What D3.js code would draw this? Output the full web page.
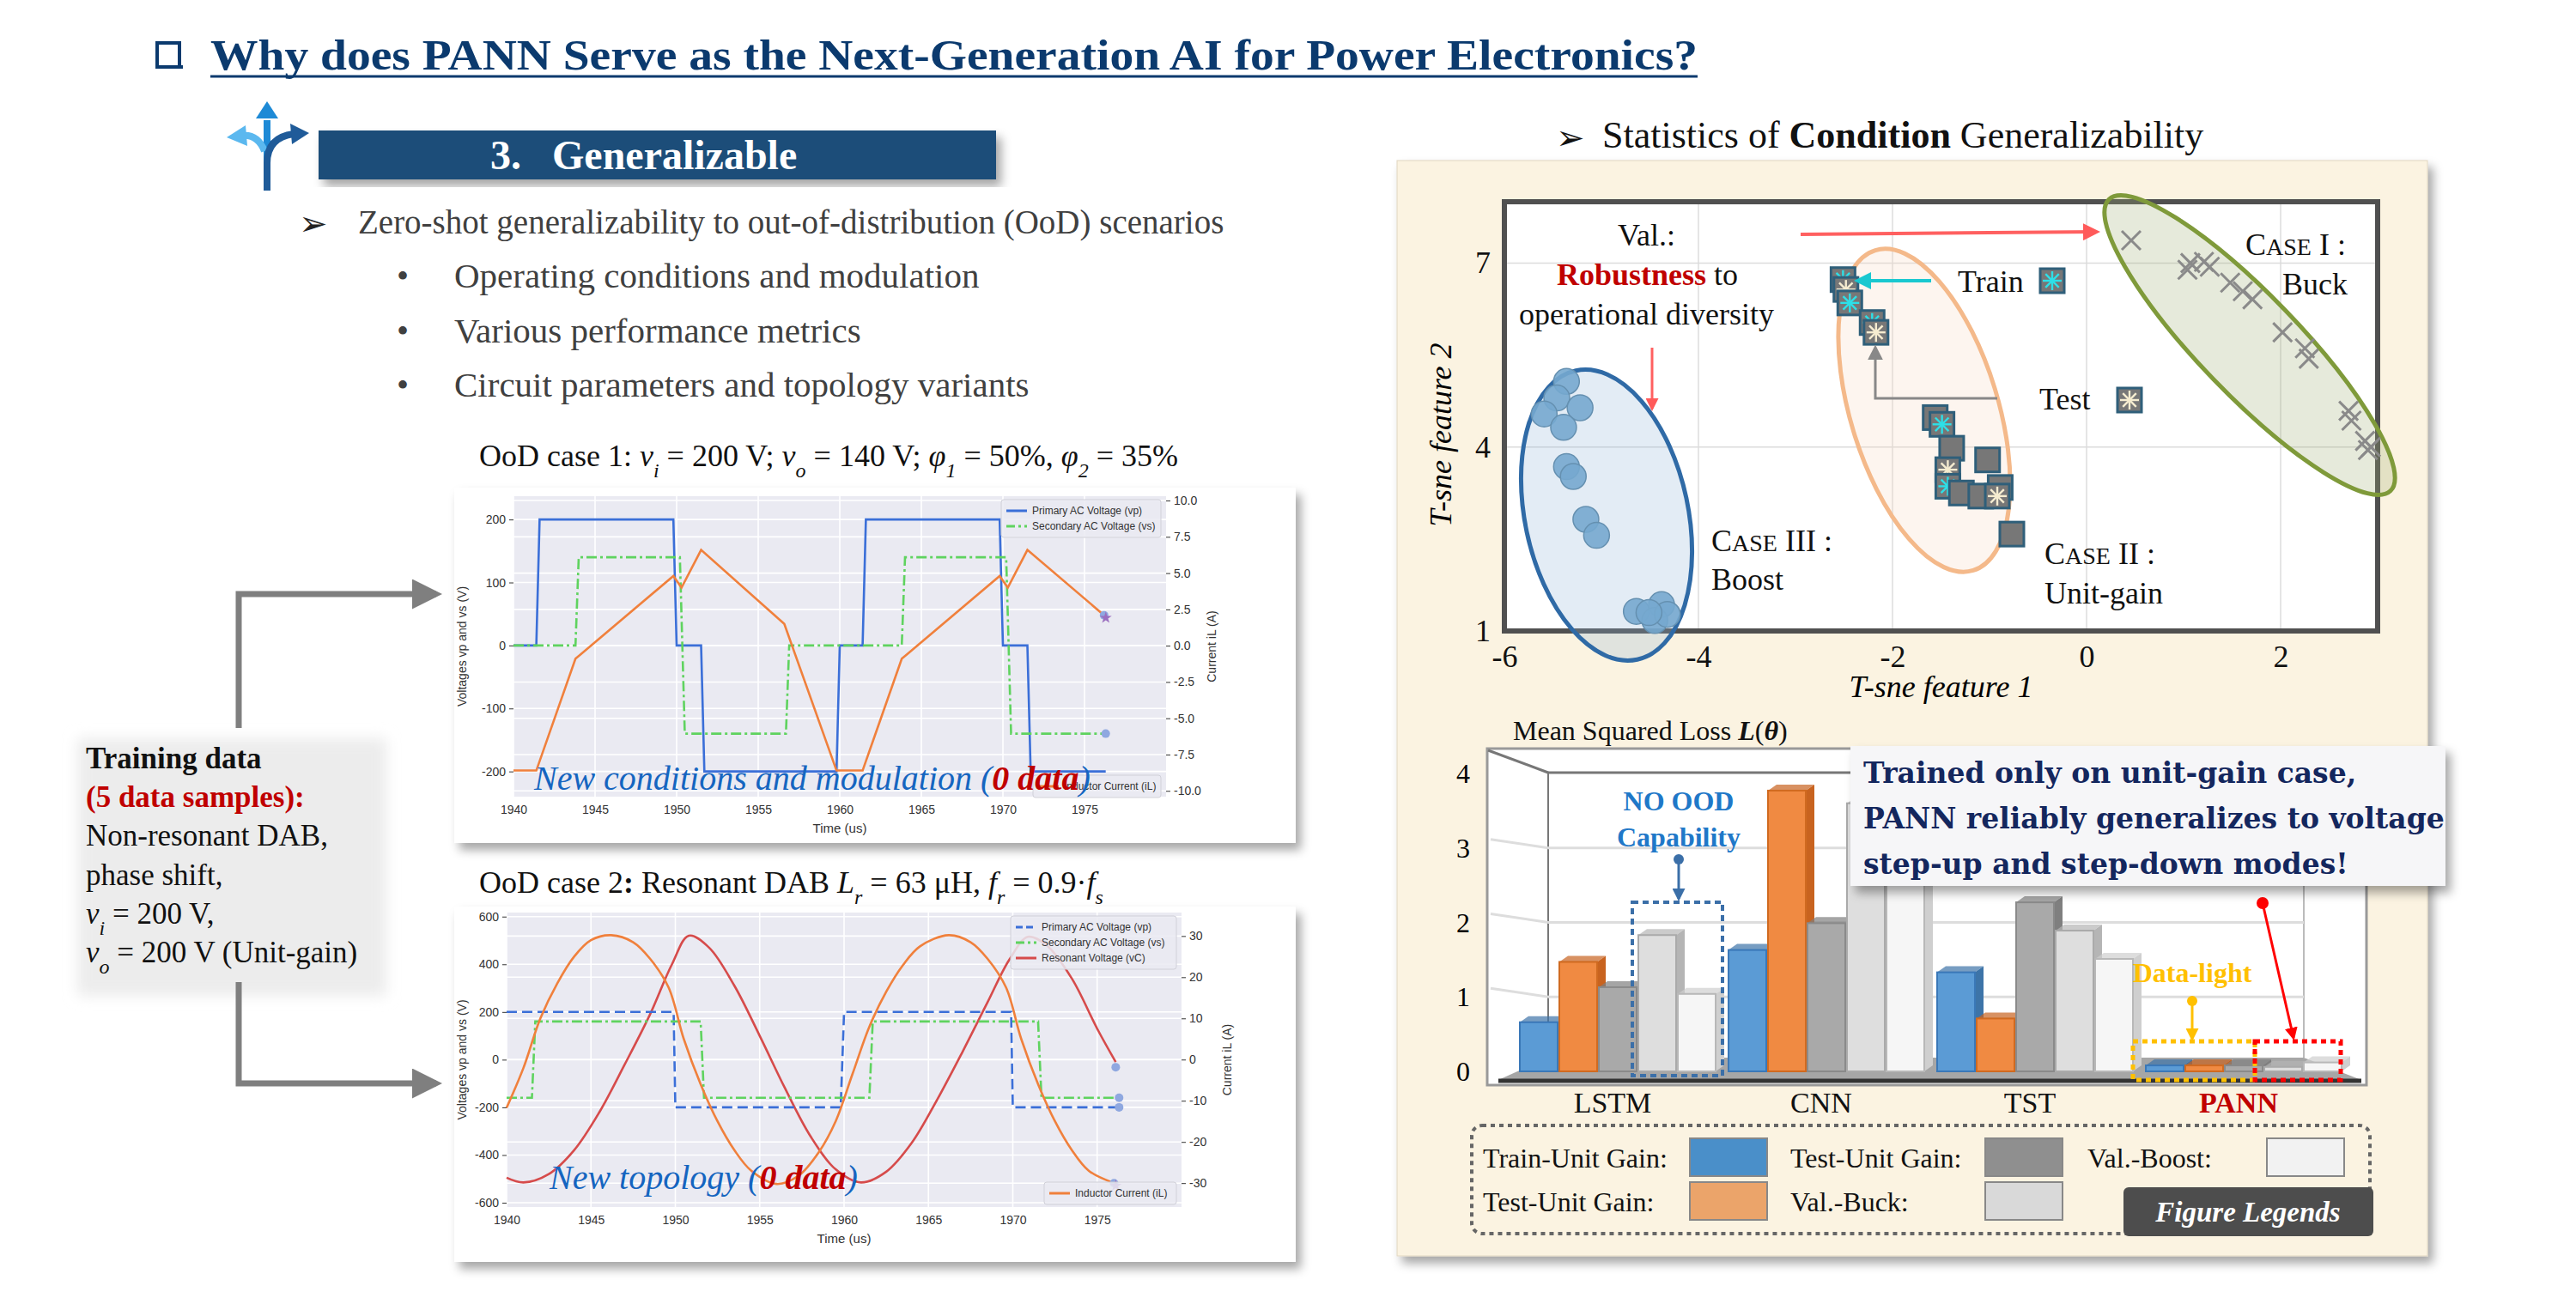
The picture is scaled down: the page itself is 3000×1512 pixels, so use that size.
<!DOCTYPE html>
<html>
<head>
<meta charset="utf-8">
<script src="https://cdn.jsdelivr.net/npm/d3@7"></script>
<style>
  body { margin: 0; background: #fff; }
  svg { display: block; }
</style>
</head>
<body>
<div id="chart"></div>
<script>
// ---------- data ----------
var bulletItems = ["Operating conditions and modulation", "Various performance metrics", "Circuit parameters and topology variants"]

// OoD case 1 waveforms (time in us)
var case1Vp = [[1940,0],[1941.4,0],[1941.6,200],[1949.8,200],[1950,0],[1951.5,0],[1951.7,-200],[1959.8,-200],[1960,0],[1961.4,0],[1961.6,200],[1969.8,200],[1970,0],[1971.5,0],[1971.7,-200],[1976.3,-200]]
var case1Vs = [[1940,0],[1943.8,0],[1944,140],[1950.2,140],[1950.5,-140],[1956.7,-140],[1956.9,0],[1963.8,0],[1964,140],[1970.2,140],[1970.5,-140],[1976.3,-140]]
var case1IL = [[1940,-8.6],[1941.4,-8.6],[1943.8,-0.9],[1949.8,4.8],[1950.3,4.0],[1951.5,6.6],[1956.6,1.5],[1959.8,-8.6],[1961.4,-8.6],[1963.8,-0.9],[1969.8,4.8],[1970.3,4.0],[1971.5,6.6],[1976.2,2.1]]
var case1LeftTicks = [-200,-100,0,100,200]
var case1RightTicks = [-10,-7.5,-5,-2.5,0,2.5,5,7.5,10]

// OoD case 2 waveforms
var case2Vp = [[1940,200],[1949.9,200],[1950,-200],[1959.8,-200],[1960,200],[1969.9,200],[1970,-200],[1976.3,-200]]
var case2Vs = [[1940,-160],[1941.5,-160],[1941.7,160],[1951.5,160],[1951.7,-160],[1961.5,-160],[1961.7,160],[1971.5,160],[1971.7,-160],[1976.3,-160]]
var case2IL = [[1940,-11.7],[1941,-2],[1942,10],[1943,18.5],[1944,25],[1945,29],[1946.2,30.2],[1947.5,28.5],[1948.5,24.5],[1949.6,17.5],[1950.5,5],[1951.5,-6],[1952.5,-15],[1953.5,-22],[1954.5,-27],[1956,-30.2],[1957.3,-28.2],[1958.5,-22.5],[1959.5,-15],[1960.5,-3.5],[1961.5,8],[1962.5,16.5],[1963.5,23],[1964.5,27.5],[1966.2,30.2],[1967.5,28.5],[1968.5,24.5],[1969.6,17.5],[1970.5,5],[1971.5,-6],[1972.5,-15],[1973.5,-22],[1974.5,-27],[1976,-30]]
var case2Vc = [[1940,-495],[1941,-515],[1942.5,-480],[1944,-380],[1945.5,-220],[1947,-20],[1948.5,190],[1949.8,400],[1950.8,520],[1952,470],[1953.5,310],[1955,100],[1956.5,-120],[1958,-320],[1959.5,-460],[1961,-515],[1962.5,-470],[1964,-350],[1965.5,-170],[1967,30],[1968.5,240],[1969.8,420],[1970.9,515],[1972,480],[1973.5,340],[1975,130],[1976.1,-10]]
var case2LeftTicks = [-600,-400,-200,0,200,400,600]
var case2RightTicks = [-30,-20,-10,0,10,20,30]
var timeTicks = [1940,1945,1950,1955,1960,1965,1970,1975]

// t-SNE scatter
var boostPts = [[-5.36,5.07],[-5.46,4.80],[-5.22,4.64],[-5.59,4.54],[-5.39,4.32],[-5.36,3.68],[-5.29,3.52],[-5.16,2.82],[-5.05,2.56],[-4.64,1.32],[-4.38,1.43],[-4.45,1.17],[-4.32,1.27],[-4.51,1.30]]
var unitPts = [[-2.51,6.73],[-2.48,6.57],[-2.44,6.35],[-2.21,6.03],[-2.17,5.87],[-1.56,4.48],[-1.49,4.37],[-1.39,3.98],[-1.02,3.79],[-1.43,3.63],[-1.43,3.36],[-1.29,3.25],[-1.09,3.20],[-0.89,3.34],[-0.92,3.20],[-0.77,2.58]]
var unitKind = ["train","test","train","train","test","none","train","none","none","test","train","none","none","none","test","none"]
var buckPts = [[0.46,7.37],[1.07,7.0],[1.21,7.02],[1.27,6.94],[1.04,6.89],[1.48,6.68],[1.61,6.54],[1.71,6.41],[2.02,5.87],[2.25,5.61],[2.29,5.44],[2.70,4.59],[2.73,4.43],[2.87,4.10],[2.90,3.95],[2.93,4.00]]
var tsneXTicks = [-6,-4,-2,0,2]
var tsneYTicks = [1,4,7]

// bar chart of mean squared loss
var models = ["LSTM","CNN","TST","PANN"]
var trainUnit = [0.66, 1.63, 1.33, 0.08]
var testUnitA = [1.47, 3.77, 0.71, 0.08]
var testUnitB = [1.13, 1.99, 2.27, 0.08]
var valBuck   = [1.83, 3.60, 1.89, 0.06]
var valBoost  = [1.04, 3.30, 1.51, 0.12]
var lossTicks = [0,1,2,3,4]

var serif = "'Liberation Serif', 'Times New Roman', serif"
var sans = "'Liberation Sans', Arial, sans-serif"
var plain = function (d) { return String(d) }

var svg = d3.select("#chart").append("svg").attr("width", 3000).attr("height", 1512)

var defs = svg.append("defs")
var sh = defs.append("filter").attr("id", "shadow").attr("x", "-5%").attr("y", "-5%").attr("width", "115%").attr("height", "120%")
sh.append("feDropShadow").attr("dx", 6).attr("dy", 8).attr("stdDeviation", 6).attr("flood-color", "#000").attr("flood-opacity", 0.35)
var sh2 = defs.append("filter").attr("id", "soft").attr("x", "-10%").attr("y", "-10%").attr("width", "120%").attr("height", "130%")
sh2.append("feGaussianBlur").attr("stdDeviation", 8)
function arrowMarker(id, color, size) {
  defs.append("marker").attr("id", id).attr("viewBox", "0 0 10 10").attr("refX", 8).attr("refY", 5)
    .attr("markerWidth", size).attr("markerHeight", size).attr("orient", "auto")
    .append("path").attr("d", "M0,0 L10,5 L0,10 z").attr("fill", color)
}
arrowMarker("arrGray", "#7f7f7f", 5)
arrowMarker("arrRed", "#ff5a5a", 5)
arrowMarker("arrCyan", "#19c8d0", 5)
arrowMarker("arrGray2", "#888", 6)
arrowMarker("arrRed2", "#ff0000", 5)
arrowMarker("arrBlue", "#3b6fa8", 5)
arrowMarker("arrYel", "#ffc000", 5)

// ---------- title ----------
svg.append("rect").attr("x", 183).attr("y", 50).attr("width", 26).attr("height", 28).attr("fill", "none").attr("stroke", "#0b3a6e").attr("stroke-width", 4)
svg.append("rect").attr("x", 187).attr("y", 76).attr("width", 26).attr("height", 4).attr("fill", "#0b3a6e")
svg.append("text").attr("x", 245).attr("y", 81).attr("font-family", serif).attr("font-weight", "bold").attr("font-size", 50)
  .attr("fill", "#0b3a6e").attr("textLength", 1732).attr("lengthAdjust", "spacingAndGlyphs")
  .text("Why does PANN Serve as the Next-Generation AI for Power Electronics?")
svg.append("line").attr("x1", 245).attr("x2", 1977).attr("y1", 89).attr("y2", 89).attr("stroke", "#0b3a6e").attr("stroke-width", 3)

// icon
var icon = svg.append("g").attr("fill", "none").attr("stroke-width", 8)
icon.append("path").attr("d", "M311,218 L311,140").attr("stroke", "#1e8ad6")
icon.append("path").attr("d", "M298,138 L311,118 L324,138 Z").attr("fill", "#1e8ad6").attr("stroke", "none")
icon.append("path").attr("d", "M308,176 Q300,156 282,158").attr("stroke", "#5bb8ef")
icon.append("path").attr("d", "M286,146 L264,160 L288,170 Z").attr("fill", "#5bb8ef").attr("stroke", "none")
icon.append("path").attr("d", "M311,222 L311,190 Q311,160 342,156").attr("stroke", "#1f5b99")
icon.append("path").attr("d", "M338,144 L360,155 L340,168 Z").attr("fill", "#1f5b99").attr("stroke", "none")

// banner
svg.append("rect").attr("x", 371).attr("y", 152).attr("width", 789).attr("height", 57).attr("fill", "#1f4e79").attr("filter", "url(#shadow)")
svg.append("text").attr("x", 571).attr("y", 197).attr("font-family", serif).attr("font-weight", "bold").attr("font-size", 48).attr("fill", "#fff")
  .attr("xml:space", "preserve").text("3.   Generalizable")

// bullets
svg.append("text").attr("x", 348).attr("y", 274).attr("font-family", "'DejaVu Sans'").attr("font-size", 40).attr("fill", "#222").text("➢")
svg.append("text").attr("x", 417).attr("y", 272).attr("font-family", serif).attr("font-size", 39).attr("fill", "#404040")
  .text("Zero-shot generalizability to out-of-distribution (OoD) scenarios")
bulletItems.forEach(function (t, i) {
  var y = 335 + i * 63.5
  svg.append("text").attr("x", 462).attr("y", y).attr("font-family", serif).attr("font-size", 40).attr("fill", "#404040").text("•")
  svg.append("text").attr("x", 529).attr("y", y).attr("font-family", serif).attr("font-size", 41).attr("fill", "#404040").text(t)
})

// ---------- OoD case captions ----------
function caption(y, parts) {
  var t = svg.append("text").attr("x", 558).attr("y", y).attr("font-family", serif).attr("font-size", 36).attr("fill", "#111")
  parts.forEach(function (p) {
    var s = t.append("tspan").text(p[0])
    if (p[1] == "i") s.attr("font-style", "italic")
    if (p[1] == "b") s.attr("font-weight", "bold")
    if (p[1] == "sub") s.attr("font-style", "italic").attr("font-size", 24).attr("baseline-shift", "sub")
  })
}
caption(543, [["OoD case 1: "], ["v", "i"], ["i", "sub"], [" = 200 V; "], ["v", "i"], ["o", "sub"], [" = 140 V; "], ["φ", "i"], ["1", "sub"], [" = 50%, "], ["φ", "i"], ["2", "sub"], [" = 35%"]])
caption(1040, [["OoD case 2"], [":", "b"], [" Resonant DAB "], ["L", "i"], ["r", "sub"], [" = 63 μH, "], ["f", "i"], ["r", "sub"], [" = 0.9·"], ["f", "i"], ["s", "sub"]])

// ---------- waveform plots ----------
function waveformPlot(o) {
  var g = svg.append("g")
  g.append("rect").attr("x", o.card[0]).attr("y", o.card[1]).attr("width", o.card[2]).attr("height", o.card[3]).attr("fill", "#fff").attr("filter", "url(#shadow)")
  var x = d3.scaleLinear().domain([1940, 1980]).range([o.left, o.right])
  var yl = d3.scaleLinear().domain(o.ylDom).range([o.bottom, o.top])
  var yr = d3.scaleLinear().domain(o.yrDom).range([o.bottom, o.top])
  g.append("rect").attr("x", o.left).attr("y", o.top).attr("width", o.right - o.left).attr("height", o.bottom - o.top).attr("fill", "#eaeaf2")
  var grid = g.append("g").attr("stroke", "#fff").attr("stroke-width", 1.6)
  timeTicks.forEach(function (t) { grid.append("line").attr("x1", x(t)).attr("x2", x(t)).attr("y1", o.top).attr("y2", o.bottom) })
  o.lt.forEach(function (v) { grid.append("line").attr("x1", o.left).attr("x2", o.right).attr("y1", yl(v)).attr("y2", yl(v)) })
  o.rt.forEach(function (v) { grid.append("line").attr("x1", o.left).attr("x2", o.right).attr("y1", yr(v)).attr("y2", yr(v)) })

  var ax = g.append("g").attr("transform", "translate(0," + o.bottom + ")").call(d3.axisBottom(x).tickValues(timeTicks).tickFormat(plain).tickSize(0).tickPadding(10))
  var al = g.append("g").attr("transform", "translate(" + o.left + ",0)").call(d3.axisLeft(yl).tickValues(o.lt).tickFormat(plain).tickSize(5).tickPadding(4))
  var ar = g.append("g").attr("transform", "translate(" + o.right + ",0)").call(d3.axisRight(yr).tickValues(o.rt).tickSize(5).tickPadding(4)
    .tickFormat(o.rtFmt))
  ;[ax, al, ar].forEach(function (a) {
    a.select(".domain").remove()
    a.selectAll("text").attr("font-family", sans).attr("font-size", 14).attr("fill", "#333")
    a.selectAll("line").attr("stroke", "#333")
  })
  g.append("text").attr("x", (o.left + o.right) / 2).attr("y", o.bottom + 42).attr("text-anchor", "middle").attr("font-family", sans).attr("font-size", 15).attr("fill", "#333").text("Time (us)")
  g.append("text").attr("transform", "translate(" + (o.card[0] + 14) + "," + ((o.top + o.bottom) / 2) + ") rotate(-90)").attr("text-anchor", "middle").attr("font-family", sans).attr("font-size", 14).attr("fill", "#333").text("Voltages vp and vs (V)")
  g.append("text").attr("transform", "translate(" + (o.right + 58) + "," + ((o.top + o.bottom) / 2) + ") rotate(-90)").attr("text-anchor", "middle").attr("font-family", sans).attr("font-size", 14).attr("fill", "#333").text("Current iL (A)")

  var lineL = d3.line().x(function (d) { return x(d[0]) }).y(function (d) { return yl(d[1]) })
  var lineR = d3.line().x(function (d) { return x(d[0]) }).y(function (d) { return yr(d[1]) })
  var smoothL = d3.line().curve(d3.curveCatmullRom).x(function (d) { return x(d[0]) }).y(function (d) { return yl(d[1]) })
  var smoothR = d3.line().curve(d3.curveCatmullRom).x(function (d) { return x(d[0]) }).y(function (d) { return yr(d[1]) })

  if (o.vc) g.append("path").attr("d", smoothL(o.vc)).attr("fill", "none").attr("stroke", "#d64b4b").attr("stroke-width", 2.6)
  g.append("path").attr("d", lineL(o.vp)).attr("fill", "none").attr("stroke", "#3b6fd8").attr("stroke-width", 2.6).attr("stroke-dasharray", o.vpDash)
  g.append("path").attr("d", lineL(o.vs)).attr("fill", "none").attr("stroke", "#5fd35f").attr("stroke-width", 2.6).attr("stroke-dasharray", "12,4,3,4")
  g.append("path").attr("d", (o.smooth ? smoothR : lineR)(o.il)).attr("fill", "none").attr("stroke", "#f0803c").attr("stroke-width", 2.6)

  // end markers
  var last = function (a) { return a[a.length - 1] }
  g.append("circle").attr("cx", x(last(o.vs)[0])).attr("cy", yl(last(o.vs)[1])).attr("r", 5).attr("fill", "#8fa8e0")
  if (o.vc) {
    g.append("circle").attr("cx", x(last(o.vp)[0])).attr("cy", yl(last(o.vp)[1])).attr("r", 5).attr("fill", "#8fa8e0")
    g.append("circle").attr("cx", x(last(o.vc)[0])).attr("cy", yl(last(o.vc)[1]) + 6).attr("r", 5).attr("fill", "#8fa8e0")
  }
  g.append("circle").attr("cx", x(last(o.il)[0])).attr("cy", yr(last(o.il)[1])).attr("r", 5).attr("fill", "#8fa8e0")
  g.append("path").attr("d", d3.symbol(d3.symbolStar, 60)()).attr("transform", "translate(" + (x(last(o.il)[0]) + 2) + "," + (yr(last(o.il)[1]) + 3) + ")").attr("fill", "#9b6fc0")

  // legends
  function legendBox(bx, by, items) {
    var lg = g.append("g")
    lg.append("rect").attr("x", bx).attr("y", by).attr("width", o.right - 6 - bx).attr("height", items.length * 18 + 8).attr("rx", 3).attr("fill", "#eaeaf2").attr("fill-opacity", 0.85).attr("stroke", "#d0d0d8")
    items.forEach(function (it, i) {
      var yy = by + 13 + i * 18
      lg.append("line").attr("x1", bx + 6).attr("x2", bx + 30).attr("y1", yy).attr("y2", yy).attr("stroke", it[1]).attr("stroke-width", 3).attr("stroke-dasharray", it[2])
      lg.append("text").attr("x", bx + 36).attr("y", yy + 4).attr("font-family", sans).attr("font-size", 12).attr("fill", "#333").text(it[0])
    })
  }
  legendBox(o.legTop[0], o.legTop[1], o.topItems)
  legendBox(o.legBot[0], o.legBot[1], [["Inductor Current (iL)", "#f0803c", null]])

  // overlay caption
  var c = g.append("text").attr("x", o.capX).attr("y", o.capY).attr("font-family", serif).attr("font-style", "italic").attr("font-size", 40).attr("fill", "#1565c0")
  c.append("tspan").text(o.capText + " (")
  c.append("tspan").attr("font-weight", "bold").attr("fill", "#c00000").text("0 data")
  c.append("tspan").text(")")
}

waveformPlot({
  card: [529, 568, 980, 414], left: 598, right: 1358, top: 578, bottom: 928,
  ylDom: [-240, 237], yrDom: [-10.4, 10.3], lt: case1LeftTicks, rt: case1RightTicks, rtFmt: function (d) { return d.toFixed(1) },
  vp: case1Vp, vs: case1Vs, il: case1IL, vpDash: null, smooth: false,
  legTop: [1166, 582], topItems: [["Primary AC Voltage (vp)", "#3b6fd8", null], ["Secondary AC Voltage (vs)", "#5fd35f", "10,4,3,4"]],
  legBot: [1203, 903], capX: 622, capY: 920, capText: "New conditions and modulation"
})
waveformPlot({
  card: [529, 1056, 980, 414], left: 590, right: 1376, top: 1063, bottom: 1406,
  ylDom: [-618, 617], yrDom: [-35.8, 35.7], lt: case2LeftTicks, rt: case2RightTicks, rtFmt: plain,
  vp: case2Vp, vs: case2Vs, il: case2IL, vc: case2Vc, vpDash: "12,6", smooth: true,
  legTop: [1177, 1067], topItems: [["Primary AC Voltage (vp)", "#3b6fd8", "8,4"], ["Secondary AC Voltage (vs)", "#5fd35f", "10,4,3,4"], ["Resonant Voltage (vC)", "#d64b4b", null]],
  legBot: [1216, 1377], capX: 640, capY: 1385, capText: "New topology"
})

// ---------- training data box & arrows ----------
svg.append("rect").attr("x", 90).attr("y", 860).attr("width", 360).attr("height", 300).attr("fill", "#ececec").attr("filter", "url(#soft)")
var td = [
  [{t: "Training data", w: "bold", c: "#111"}],
  [{t: "(5 data samples):", w: "bold", c: "#c00000"}],
  [{t: "Non-resonant DAB,"}],
  [{t: "phase shift,"}],
  [{t: "v", i: 1}, {t: "i", s: 1}, {t: " = 200 V,"}],
  [{t: "v", i: 1}, {t: "o", s: 1}, {t: " = 200 V (Unit-gain)"}]
]
td.forEach(function (line, i) {
  var t = svg.append("text").attr("x", 100).attr("y", 895 + i * 45.2).attr("font-family", serif).attr("font-size", 35).attr("fill", "#111")
  line.forEach(function (p) {
    var s = t.append("tspan").text(p.t)
    if (p.w) s.attr("font-weight", p.w)
    if (p.c) s.attr("fill", p.c)
    if (p.i) s.attr("font-style", "italic")
    if (p.s) s.attr("font-style", "italic").attr("font-size", 24).attr("baseline-shift", "sub")
  })
})
svg.append("path").attr("d", "M278,848 L278,692 L508,692").attr("fill", "none").attr("stroke", "#7f7f7f").attr("stroke-width", 7).attr("marker-end", "url(#arrGray)")
svg.append("path").attr("d", "M278,1144 L278,1262 L508,1262").attr("fill", "none").attr("stroke", "#7f7f7f").attr("stroke-width", 7).attr("marker-end", "url(#arrGray)")

// ---------- right panel ----------
svg.append("text").attr("x", 1812).attr("y", 174).attr("font-family", "'DejaVu Sans'").attr("font-size", 40).attr("fill", "#111").text("➢")
var st = svg.append("text").attr("x", 1866).attr("y", 172).attr("font-family", serif).attr("font-size", 44).attr("fill", "#111")
st.append("tspan").text("Statistics of ")
st.append("tspan").attr("font-weight", "bold").text("Condition")
st.append("tspan").text(" Generalizability")

svg.append("rect").attr("x", 1627).attr("y", 187).attr("width", 1200).attr("height", 1276).attr("fill", "#fbf3e1").attr("stroke", "#e0d6c0").attr("filter", "url(#shadow)")

// t-SNE scatter
var tx = d3.scaleLinear().domain([-6, 3]).range([1752, 2769])
var ty = d3.scaleLinear().domain([1, 8]).range([735, 235])
var sc = svg.append("g")
sc.append("rect").attr("x", tx(-6)).attr("y", ty(8)).attr("width", tx(3) - tx(-6)).attr("height", ty(1) - ty(8)).attr("fill", "#fff")
tsneXTicks.slice(1).forEach(function (v) { sc.append("line").attr("x1", tx(v)).attr("x2", tx(v)).attr("y1", ty(8)).attr("y2", ty(1)).attr("stroke", "#dcdcdc").attr("stroke-width", 1.5) })
;[4, 7].forEach(function (v) { sc.append("line").attr("x1", tx(-6)).attr("x2", tx(3)).attr("y1", ty(v)).attr("y2", ty(v)).attr("stroke", "#dcdcdc").attr("stroke-width", 1.5) })
sc.append("rect").attr("x", tx(-6)).attr("y", ty(8)).attr("width", tx(3) - tx(-6)).attr("height", ty(1) - ty(8)).attr("fill", "none").attr("stroke", "#505050").attr("stroke-width", 6)

var xa = sc.append("g").attr("transform", "translate(0," + (ty(1) + 4) + ")").call(d3.axisBottom(tx).tickValues(tsneXTicks).tickFormat(plain).tickSize(0).tickPadding(12))
var ya = sc.append("g").attr("transform", "translate(" + (tx(-6) - 4) + ",0)").call(d3.axisLeft(ty).tickValues(tsneYTicks).tickFormat(plain).tickSize(0).tickPadding(12))
;[xa, ya].forEach(function (a) {
  a.select(".domain").remove()
  a.selectAll("text").attr("font-family", serif).attr("font-size", 36).attr("fill", "#111")
})
sc.append("text").attr("x", tx(-1.5)).attr("y", 812).attr("text-anchor", "middle").attr("font-family", serif).attr("font-style", "italic").attr("font-size", 36).text("T-sne feature 1")
sc.append("text").attr("transform", "translate(1690," + ty(4.2) + ") rotate(-90)").attr("text-anchor", "middle").attr("font-family", serif).attr("font-style", "italic").attr("font-size", 36).text("T-sne feature 2")

// ellipses
function ell(cx, cy, rx, ry, rot, fill, stroke) {
  sc.append("ellipse").attr("cx", cx).attr("cy", cy).attr("rx", rx).attr("ry", ry).attr("transform", "rotate(" + rot + "," + cx + "," + cy + ")")
    .attr("fill", fill).attr("fill-opacity", 0.25).attr("stroke", stroke).attr("stroke-width", 5)
}
ell(1871, 600, 95, 172, -12, "#8fb4d8", "#2f6aa6")
ell(2241, 478, 86, 195, -17, "#f8d8c0", "#f4b98a")
ell(2620, 402, 58, 236, -44, "#9aaa70", "#7f9a3a")

// points
sc.selectAll(".boost").data(boostPts).enter().append("circle")
  .attr("cx", function (d) { return tx(d[0]) }).attr("cy", function (d) { return ty(d[1]) }).attr("r", 15)
  .attr("fill", "#75a9cf").attr("stroke", "#6590b0").attr("stroke-width", 1.5).attr("fill-opacity", 0.9)
function asterisk(g, cx, cy, r, color) {
  for (var k = 0; k < 4; k++) {
    var a = k * Math.PI / 4
    g.append("line").attr("x1", cx - r * Math.cos(a)).attr("y1", cy - r * Math.sin(a)).attr("x2", cx + r * Math.cos(a)).attr("y2", cy + r * Math.sin(a)).attr("stroke", color).attr("stroke-width", 2.4)
  }
}
unitPts.forEach(function (d, i) {
  var cx = tx(d[0]), cy = ty(d[1])
  sc.append("rect").attr("x", cx - 14).attr("y", cy - 14).attr("width", 28).attr("height", 28).attr("fill", "#777").attr("stroke", "#2f5f7a").attr("stroke-width", 3)
  if (unitKind[i] == "train") asterisk(sc, cx, cy, 11, "#2de0e8")
  if (unitKind[i] == "test") asterisk(sc, cx, cy, 11, "#f5ecd0")
})
buckPts.forEach(function (d) {
  var cx = tx(d[0]), cy = ty(d[1])
  sc.append("path").attr("d", "M" + (cx - 11) + "," + (cy - 11) + "L" + (cx + 11) + "," + (cy + 11) + "M" + (cx - 11) + "," + (cy + 11) + "L" + (cx + 11) + "," + (cy - 11))
    .attr("stroke", "#8a8a8a").attr("stroke-width", 3)
})

// annotations in scatter
function label(x, y, txt, opts) {
  var t = sc.append("text").attr("x", x).attr("y", y).attr("font-family", serif).attr("font-size", 36).attr("fill", "#111")
  if (opts) opts(t)
  if (txt) t.text(txt)
  return t
}
label(1884, 286, "Val.:")
sc.append("line").attr("x1", 2097).attr("y1", 273).attr("x2", 2442).attr("y2", 270).attr("stroke", "#ff6060").attr("stroke-width", 4).attr("marker-end", "url(#arrRed)")
var rb = label(1813, 332, null)
rb.append("tspan").attr("font-weight", "bold").attr("fill", "#c00000").text("Robustness")
rb.append("tspan").text(" to")
label(1769, 378, "operational diversity")
sc.append("line").attr("x1", 1924).attr("y1", 405).attr("x2", 1924).attr("y2", 476).attr("stroke", "#ff6060").attr("stroke-width", 3).attr("marker-end", "url(#arrRed)")
label(2280, 340, "Train")
sc.append("rect").attr("x", 2376).attr("y", 313).attr("width", 28).attr("height", 28).attr("fill", "#777").attr("stroke", "#2f5f7a").attr("stroke-width", 3)
asterisk(sc, 2390, 327, 11, "#2de0e8")
sc.append("line").attr("x1", 2249).attr("y1", 327).attr("x2", 2163).attr("y2", 327).attr("stroke", "#19c8d0").attr("stroke-width", 4).attr("marker-end", "url(#arrCyan)")
label(2375, 477, "Test")
sc.append("rect").attr("x", 2466).attr("y", 452).attr("width", 28).attr("height", 28).attr("fill", "#777").attr("stroke", "#2f5f7a").attr("stroke-width", 3)
asterisk(sc, 2480, 466, 11, "#f5ecd0")
sc.append("path").attr("d", "M2326,464 L2184,464 L2184,405").attr("fill", "none").attr("stroke", "#888").attr("stroke-width", 3).attr("marker-end", "url(#arrGray2)")
function smallCaps(x, y, big, rest) {
  var t = label(x, y, null)
  t.append("tspan").text(big[0])
  t.append("tspan").attr("font-size", 28).text(big.slice(1))
  t.append("tspan").text(rest)
}
smallCaps(2615, 297, "CASE", " I :")
label(2658, 343, "Buck")
smallCaps(1993, 642, "CASE", " III :")
label(1993, 687, "Boost")
smallCaps(2381, 657, "CASE", " II :")
label(2381, 703, "Unit-gain")

// ---------- 3D bar chart ----------
var ly = d3.scaleLinear().domain([0, 4]).range([1248, 901])
var lx = d3.scaleBand().domain(models).range([1770, 2742])
var bw = 44, dx = 10, dy = 7
var bc = svg.append("g")
bc.append("text").attr("x", 1762).attr("y", 862).attr("font-family", serif).attr("font-size", 32).attr("fill", "#111")
  .call(function (t) { t.append("tspan").text("Mean Squared Loss "); t.append("tspan").attr("font-weight", "bold").attr("font-style", "italic").text("L"); t.append("tspan").text("("); t.append("tspan").attr("font-style", "italic").attr("font-weight", "bold").text("θ"); t.append("tspan").text(")") })
bc.append("rect").attr("x", 1732).attr("y", 872).attr("width", 1024).attr("height", 392).attr("fill", "#fff").attr("stroke", "#999").attr("stroke-width", 3)
bc.append("line").attr("x1", 1733).attr("y1", 874).attr("x2", 1803).attr("y2", 900).attr("stroke", "#777").attr("stroke-width", 3)
bc.append("line").attr("x1", 1803).attr("y1", 900).attr("x2", 2683).attr("y2", 900).attr("stroke", "#777").attr("stroke-width", 3)
bc.append("line").attr("x1", 1803).attr("y1", 900).attr("x2", 1803).attr("y2", 1232).attr("stroke", "#777").attr("stroke-width", 2)
bc.append("line").attr("x1", 2683).attr("y1", 900).attr("x2", 2683).attr("y2", 1232).attr("stroke", "#bbb").attr("stroke-width", 2)
;[1, 2, 3].forEach(function (v) {
  bc.append("line").attr("x1", 1803).attr("x2", 2683).attr("y1", ly(v)).attr("y2", ly(v)).attr("stroke", "#ddd").attr("stroke-width", 3)
  bc.append("line").attr("x1", 1736).attr("x2", 1803).attr("y1", ly(v) - 10).attr("y2", ly(v)).attr("stroke", "#ddd").attr("stroke-width", 3)
})
bc.append("path").attr("d", "M1745,1258 L1803,1232 L2683,1232 L2750,1258 Z").attr("fill", "#a6a6a6")
bc.append("line").attr("x1", 1745).attr("x2", 2750).attr("y1", 1259).attr("y2", 1259).attr("stroke", "#333").attr("stroke-width", 5)
lossTicks.forEach(function (v) {
  bc.append("text").attr("x", 1712).attr("y", ly(v) + 11).attr("text-anchor", "end").attr("font-family", serif).attr("font-size", 32).text(v)
})

var seriesVals = [trainUnit, testUnitA, testUnitB, valBuck, valBoost]
var seriesFront = ["#5b9bd5", "#f08a42", "#a9a9a9", "#dedede", "#f6f6f6"]
var seriesSide = ["#3d74a8", "#c8631f", "#7f7f7f", "#b5b5b5", "#cfcfcf"]
var seriesEdge = ["#3a78b8", "#d06a20", "#8a8a8a", "#aaaaaa", "#b8b8b8"]
models.forEach(function (m, gi) {
  seriesVals.forEach(function (vals, si) {
    var x0 = lx(m) + si * (bw + 2), y0 = ly(vals[gi]), yb = ly(0)
    bc.append("path").attr("d", "M" + (x0 + bw) + "," + yb + " L" + (x0 + bw + dx) + "," + (yb - dy) + " L" + (x0 + bw + dx) + "," + (y0 - dy) + " L" + (x0 + bw) + "," + y0 + " Z").attr("fill", seriesSide[si])
    bc.append("path").attr("d", "M" + x0 + "," + y0 + " L" + (x0 + dx) + "," + (y0 - dy) + " L" + (x0 + bw + dx) + "," + (y0 - dy) + " L" + (x0 + bw) + "," + y0 + " Z").attr("fill", seriesSide[si]).attr("fill-opacity", 0.7)
    bc.append("rect").attr("x", x0).attr("y", y0).attr("width", bw).attr("height", yb - y0).attr("fill", seriesFront[si]).attr("stroke", seriesEdge[si]).attr("stroke-width", 2)
  })
  bc.append("text").attr("x", lx(m) + 108).attr("y", 1296).attr("text-anchor", "middle").attr("font-family", serif).attr("font-size", 34)
    .attr("fill", m == "PANN" ? "#c00000" : "#111").attr("font-weight", m == "PANN" ? "bold" : "normal").text(m)
})

// annotations on bar chart
bc.append("rect").attr("x", 1901).attr("y", 1051).attr("width", 105).attr("height", 202).attr("fill", "none").attr("stroke", "#3b6fa8").attr("stroke-width", 4).attr("stroke-dasharray", "7,5")
bc.append("text").attr("x", 1955).attr("y", 944).attr("text-anchor", "middle").attr("font-family", serif).attr("font-weight", "bold").attr("font-size", 32).attr("fill", "#1f78c8").text("NO OOD")
bc.append("text").attr("x", 1955).attr("y", 986).attr("text-anchor", "middle").attr("font-family", serif).attr("font-weight", "bold").attr("font-size", 32).attr("fill", "#1f78c8").text("Capability")
bc.append("circle").attr("cx", 1955).attr("cy", 1001).attr("r", 6).attr("fill", "#3b6fa8")
bc.append("line").attr("x1", 1955).attr("y1", 1001).attr("x2", 1955).attr("y2", 1047).attr("stroke", "#3b6fa8").attr("stroke-width", 3).attr("marker-end", "url(#arrBlue)")
bc.append("rect").attr("x", 2484).attr("y", 1213).attr("width", 142).attr("height", 45).attr("fill", "none").attr("stroke", "#ffc000").attr("stroke-width", 5).attr("stroke-dasharray", "6,5")
bc.append("rect").attr("x", 2626).attr("y", 1213).attr("width", 100).attr("height", 45).attr("fill", "none").attr("stroke", "#ff0000").attr("stroke-width", 5).attr("stroke-dasharray", "6,5")
bc.append("text").attr("x", 2553).attr("y", 1144).attr("text-anchor", "middle").attr("font-family", serif).attr("font-weight", "bold").attr("font-size", 32).attr("fill", "#ffc000").text("Data-light")
bc.append("circle").attr("cx", 2553).attr("cy", 1166).attr("r", 6).attr("fill", "#ffc000")
bc.append("line").attr("x1", 2553).attr("y1", 1166).attr("x2", 2553).attr("y2", 1210).attr("stroke", "#ffc000").attr("stroke-width", 3).attr("marker-end", "url(#arrYel)")
bc.append("circle").attr("cx", 2635).attr("cy", 1052).attr("r", 7).attr("fill", "#ff0000")
bc.append("line").attr("x1", 2635).attr("y1", 1052).attr("x2", 2671).attr("y2", 1209).attr("stroke", "#ff0000").attr("stroke-width", 3).attr("marker-end", "url(#arrRed2)")

// callout box
bc.append("rect").attr("x", 2155).attr("y", 869).attr("width", 693).attr("height", 163).attr("fill", "#f6f6f8").attr("filter", "url(#shadow)")
;["Trained only on unit-gain case,", "PANN reliably generalizes to voltage", "step-up and step-down modes!"].forEach(function (l, i) {
  bc.append("text").attr("x", 2170).attr("y", 912 + i * 53).attr("font-family", "'DejaVu Serif', serif").attr("font-weight", "bold").attr("font-size", 33)
    .attr("fill", "#14275e").text(l)
})

// legend
var lg = svg.append("g")
lg.append("rect").attr("x", 1714).attr("y", 1311).attr("width", 1046).attr("height", 126).attr("rx", 12).attr("fill", "none").attr("stroke", "#666").attr("stroke-width", 4).attr("stroke-dasharray", "5,5")
var legendItems = [
  ["Train-Unit Gain:", 1727, 1968, 1348, "#4a8fc9"],
  ["Test-Unit Gain:", 2085, 2312, 1348, "#8f8f8f"],
  ["Val.-Boost:", 2431, 2640, 1348, "#f2f2f2"],
  ["Test-Unit Gain:", 1727, 1968, 1399, "#eba46a"],
  ["Val.-Buck:", 2085, 2312, 1399, "#d9d9d9"]
]
legendItems.forEach(function (it) {
  lg.append("text").attr("x", it[1]).attr("y", it[3] + 12).attr("font-family", serif).attr("font-size", 32).attr("fill", "#111").text(it[0])
  lg.append("rect").attr("x", it[2]).attr("y", it[3] - 22).attr("width", 90).attr("height", 44).attr("fill", it[4]).attr("stroke", "#888").attr("stroke-width", 2)
})
lg.append("rect").attr("x", 2473).attr("y", 1383).attr("width", 291).attr("height", 57).attr("rx", 6).attr("fill", "#4d4d4d")
lg.append("text").attr("x", 2618).attr("y", 1423).attr("text-anchor", "middle").attr("font-family", serif).attr("font-style", "italic").attr("font-weight", "bold").attr("font-size", 33).attr("fill", "#fff").text("Figure Legends")
</script>
</body>
</html>
